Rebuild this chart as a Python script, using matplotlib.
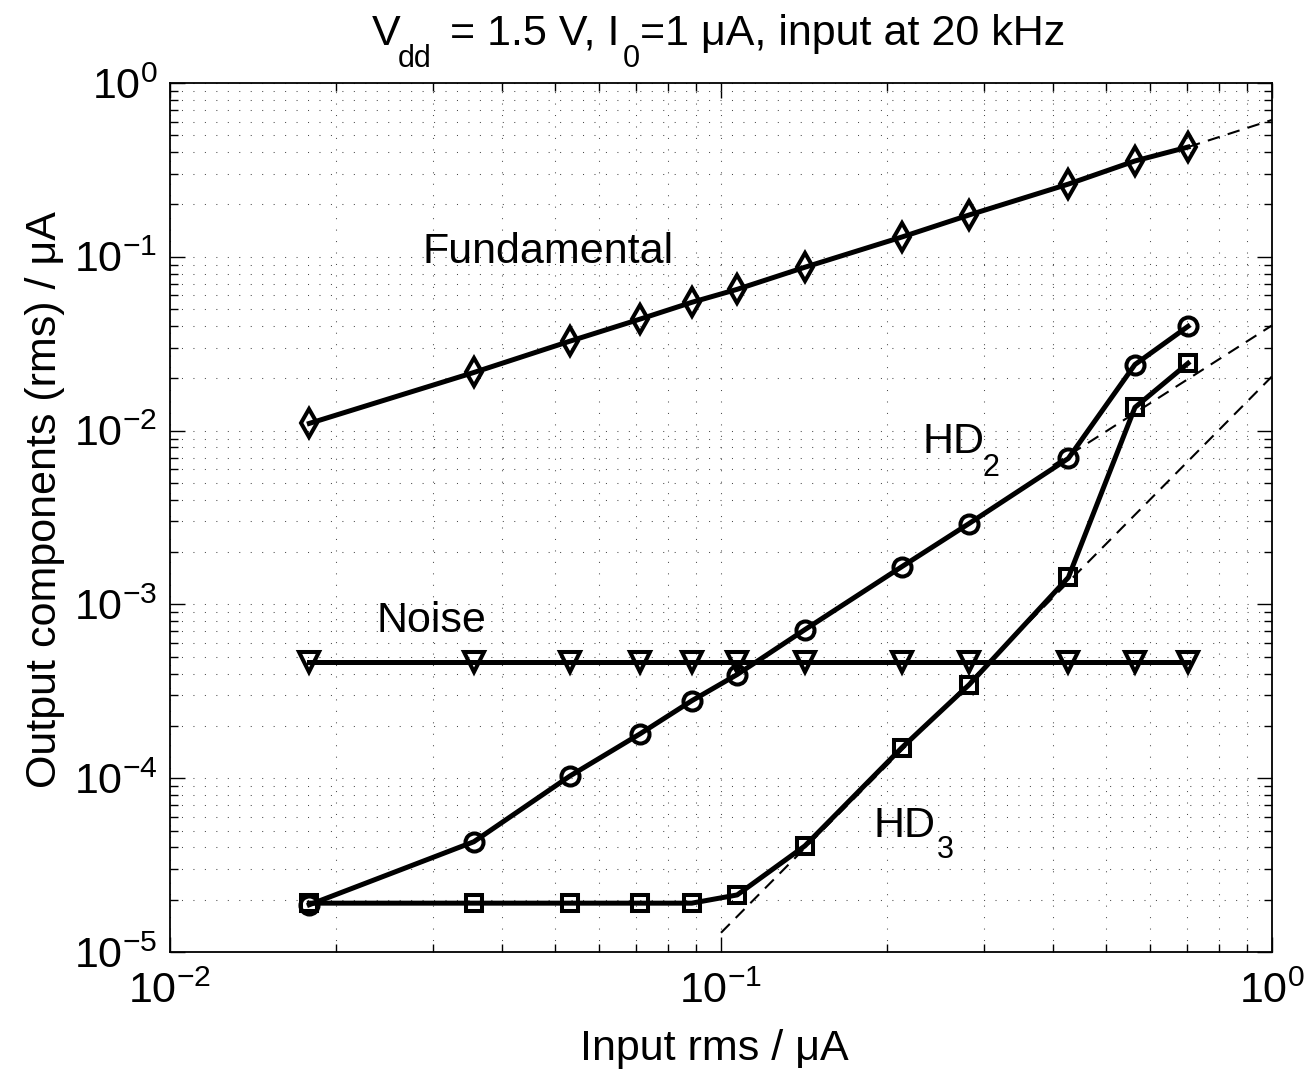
import matplotlib
matplotlib.use('Agg')
import matplotlib.pyplot as plt

plt.rcParams['font.family'] = ['Liberation Sans', 'DejaVu Sans']
plt.rcParams['mathtext.fontset'] = 'custom'
plt.rcParams['mathtext.rm'] = 'Liberation Sans'
plt.rcParams['mathtext.it'] = 'Liberation Sans:italic'
plt.rcParams['mathtext.default'] = 'regular'

# entrada rms (uA)
entrada = [0.0179, 0.0356, 0.0532, 0.0713, 0.0885, 0.107, 0.142, 0.213, 0.282, 0.427, 0.564, 0.704]

fundamental = [0.0110, 0.0216, 0.0327, 0.0438, 0.0547, 0.0650, 0.0871, 0.130, 0.174, 0.262, 0.356, 0.428]
hd2 = [1.87e-5, 4.31e-5, 1.03e-4, 1.80e-4, 2.79e-4, 3.95e-4, 7.16e-4, 1.65e-3, 2.92e-3, 6.92e-3, 0.0240, 0.0398]
hd3 = [1.91e-5, 1.91e-5, 1.91e-5, 1.91e-5, 1.91e-5, 2.13e-5, 4.08e-5, 1.50e-4, 3.45e-4, 1.43e-3, 0.0136, 0.0244]
ruido = [4.68e-4] * 12

# rectas de extrapolacao (tracejado)
fund_x = [0.704, 1.0]
fund_y = [0.428, 0.613]
hd2_x = [0.40, 1.0]
hd2_y = [6.3e-3, 0.0403]
hd3_x = [0.1, 1.0]
hd3_y = [1.29e-5, 0.0205]

W, H = 1308, 1072
fig = plt.figure(figsize=(W / 100, H / 100), dpi=100)
ax = fig.add_axes([170 / W, 1 - 952 / H, 1102 / W, 869 / H])

def texto(x, y, s, size=31):
    # x, y em pixeis a partir do canto superior esquerdo, y = linha de base
    fig.text(x / W, 1 - y / H, s, fontsize=size, ha='left', va='baseline')

ax.plot(fund_x, fund_y, 'k--', lw=1.5, dashes=(6, 4))
ax.plot(hd2_x, hd2_y, 'k--', lw=1.5, dashes=(6, 4))
ax.plot(hd3_x, hd3_y, 'k--', lw=1.5, dashes=(6, 4))

estilo = dict(color='k', lw=3.6, markerfacecolor='none', markeredgecolor='k', markeredgewidth=2.9)
ax.plot(entrada, fundamental, marker='d', ms=14, **estilo)
ax.plot(entrada, hd2, marker='o', ms=13, **estilo)
ax.plot(entrada, hd3, marker='s', ms=11, **estilo)
ax.plot(entrada, ruido, marker='v', ms=14, **estilo)

ax.set_xscale('log')
ax.set_yscale('log')
ax.set_xlim(1e-2, 1)
ax.set_ylim(1e-5, 1)

ax.grid(True, which='both', ls=(0, (1, 10)), color='0.3', lw=0.75)
ax.tick_params(which='both', direction='in', top=True, right=True, labelsize=31)
ax.tick_params(axis='x', pad=14)
ax.tick_params(axis='y', pad=9)
ax.tick_params(which='major', length=11, width=1)
ax.tick_params(which='minor', length=6, width=1)
for s in ax.spines.values():
    s.set_linewidth(1.3)

# rotulos das curvas
texto(423, 263, 'Fundamental')
texto(376, 632, 'Noise')
texto(922, 453, 'HD')
texto(983, 476, '2', 22)
texto(873, 837, 'HD')
texto(937, 858, '3', 22)

# titulo
texto(372, 45, 'V')
texto(398, 67, 'dd', 22)
texto(450, 45, '= 1.5 V, I')
texto(623, 67, '0', 22)
texto(640, 45, '=1 μA, input at 20 kHz')

fig.text(714 / W, 1 - 1060 / H, 'Input rms / μA', fontsize=31, ha='center', va='baseline')
fig.text(45 / W, 1 - 500 / H, 'Output components (rms) / μA', fontsize=31,
         ha='center', va='center', rotation=90)

fig.savefig('out.png', dpi=100)
